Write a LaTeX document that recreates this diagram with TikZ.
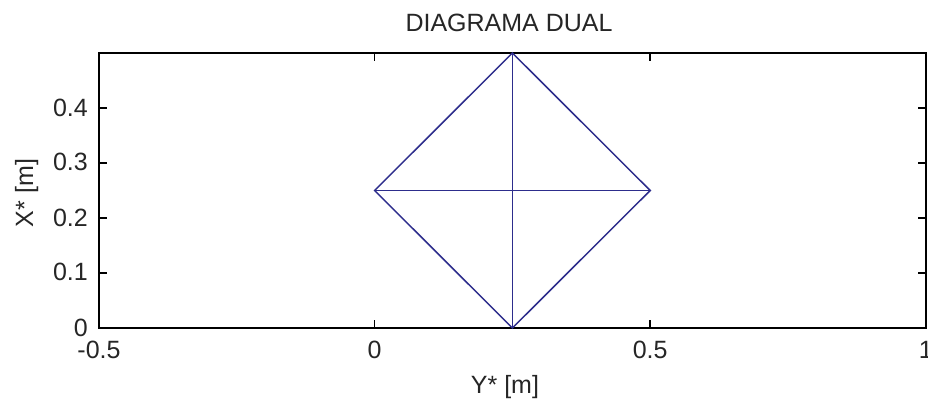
\documentclass[tikz,border=0pt]{standalone}
\usepackage{fontspec}
\setmainfont{Liberation Sans}
\begin{document}
\begin{tikzpicture}[x=1pt,y=-1pt,
  font=\fontsize{25}{29}\selectfont,
  axisline/.style={line width=1.5pt, draw=black},
  tickmark/.style={line width=1.4pt, draw=black},
  dualline/.style={line width=1.5pt, draw={rgb,255:red,45;green,45;blue,140}},
  ticklabel/.style={inner sep=0pt, text=black!85}]
\useasboundingbox (0,0) rectangle (928,406);
\clip (0,0) rectangle (928,406);
\fill[white] (0,0) rectangle (928,406);
% axes box
\coordinate (bl) at (99,328);
\coordinate (tr) at (925.75,53);
\draw[axisline] (bl) rectangle (tr);
% x ticks (bottom and top)
\foreach \v/\lab in {-0.5/-0.5, 0/0, 0.5/0.5, 1/1}{
  \pgfmathsetmacro{\px}{99+(\v+0.5)*551.17}
  \draw[tickmark] (\px,328) -- (\px,320);
  \draw[tickmark] (\px,53) -- (\px,61);
  \node[ticklabel, anchor=base] (xl\lab) at (\px,358) {\lab};
}
% y ticks (left and right)
\foreach \v/\lab in {0/0, 0.1/0.1, 0.2/0.2, 0.3/0.3, 0.4/0.4}{
  \pgfmathsetmacro{\py}{328-\v*550}
  \draw[tickmark] (99,\py) -- (107,\py);
  \draw[tickmark] (925.75,\py) -- (917.75,\py);
  \node[ticklabel, anchor=base east] (yl\lab) at (88,\py+8) {\lab};
}
% diagram vertices
\coordinate (L) at (374.6,190.5);
\coordinate (R) at (650.2,190.5);
\coordinate (T) at (512.4,53);
\coordinate (B) at (512.4,328);
\draw[dualline] (L) -- (T) -- (R) -- (B) -- cycle;
\draw[dualline] (L) -- (R);
\draw[dualline] (T) -- (B);
% labels
\node[ticklabel, anchor=base] (title) at (509,32) {DIAGRAMA DUAL};
\node[ticklabel, anchor=base] (xlab) at (505,393) {Y* [m]};
\node[ticklabel, anchor=base, rotate=90] (ylab) at (33,193) {X* [m]};
\end{tikzpicture}
\end{document}
